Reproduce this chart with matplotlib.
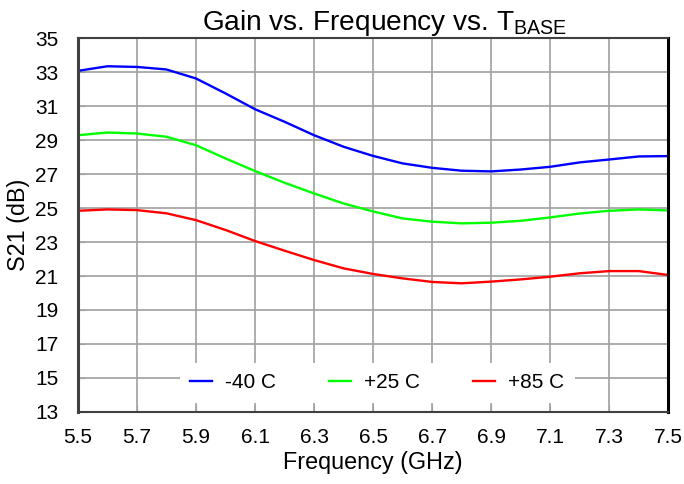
import matplotlib
matplotlib.use("Agg")
import matplotlib.pyplot as plt
import numpy as np

plt.rcParams['font.family'] = ['Liberation Sans', 'DejaVu Sans']
plt.rcParams['mathtext.default'] = 'regular'

freq = [5.5, 5.6, 5.7, 5.8, 5.9, 6.0, 6.1, 6.2, 6.3, 6.4, 6.5, 6.6, 6.7, 6.8, 6.9, 7.0, 7.1, 7.2, 7.3, 7.4, 7.5]
s21_m40 = [33.08, 33.35, 33.31, 33.16, 32.63, 31.75, 30.82, 30.08, 29.29, 28.61, 28.07, 27.63, 27.37, 27.20, 27.16, 27.27, 27.43, 27.69, 27.86, 28.04, 28.06]
s21_p25 = [29.29, 29.45, 29.39, 29.20, 28.70, 27.92, 27.18, 26.49, 25.86, 25.27, 24.80, 24.39, 24.20, 24.10, 24.14, 24.25, 24.45, 24.68, 24.84, 24.92, 24.86]
s21_p85 = [24.84, 24.92, 24.88, 24.69, 24.29, 23.71, 23.06, 22.49, 21.94, 21.45, 21.12, 20.86, 20.65, 20.57, 20.67, 20.80, 20.96, 21.16, 21.29, 21.29, 21.06]
labels = ['-40 C', '+25 C', '+85 C']
colors = ['#0000ff', '#00ff00', '#ff0000']
xticks = [5.5, 5.7, 5.9, 6.1, 6.3, 6.5, 6.7, 6.9, 7.1, 7.3, 7.5]
yticks = list(range(13, 36, 2))

fig = plt.figure(figsize=(6.84, 4.84), dpi=100)
ax = fig.add_axes([0.114, 0.149, 0.863, 0.772])

for ys, lab, c in zip([s21_m40, s21_p25, s21_p85], labels, colors):
    ax.plot(freq, ys, color=c, lw=1.7, label=lab)

ax.set_xlim(5.5, 7.5)
ax.set_ylim(13, 35)
ax.set_xticks(xticks)
ax.set_xticklabels([f"{v:.1f}" for v in xticks])
ax.set_yticks(yticks)
ax.grid(True, color='#a0a0a0', lw=1.2)
ax.set_axisbelow(True)
ax.tick_params(direction='in', length=5, labelsize=15, color='#a0a0a0')
ax.tick_params(axis='x', pad=11.5)
ax.tick_params(axis='y', pad=14)
for s in ['left', 'top', 'bottom']:
    ax.spines[s].set_color('#404040')
    ax.spines[s].set_linewidth(1.5)
ax.spines['left'].set_linewidth(2.2)
ax.spines['right'].set_color('black')
ax.spines['right'].set_linewidth(2.2)

ax.set_xlabel('Frequency (GHz)', fontsize=16.8, labelpad=3)
ax.set_ylabel('S21 (dB)', fontsize=16.8, labelpad=4)
ax.set_title(r'Gain vs. Frequency vs. T$_{BASE}$', fontsize=20.2, pad=3, x=0.52)

leg = ax.legend(loc='center', bbox_to_anchor=(0.507, 0.0775), ncol=3, frameon=True,
                fancybox=False, edgecolor='none', facecolor='white', framealpha=1,
                fontsize=15, handlelength=1.06, columnspacing=2.55, handletextpad=0.62,
                borderpad=0.5)
leg.get_frame().set_linewidth(0)

fig.savefig('out.png', dpi=100)
